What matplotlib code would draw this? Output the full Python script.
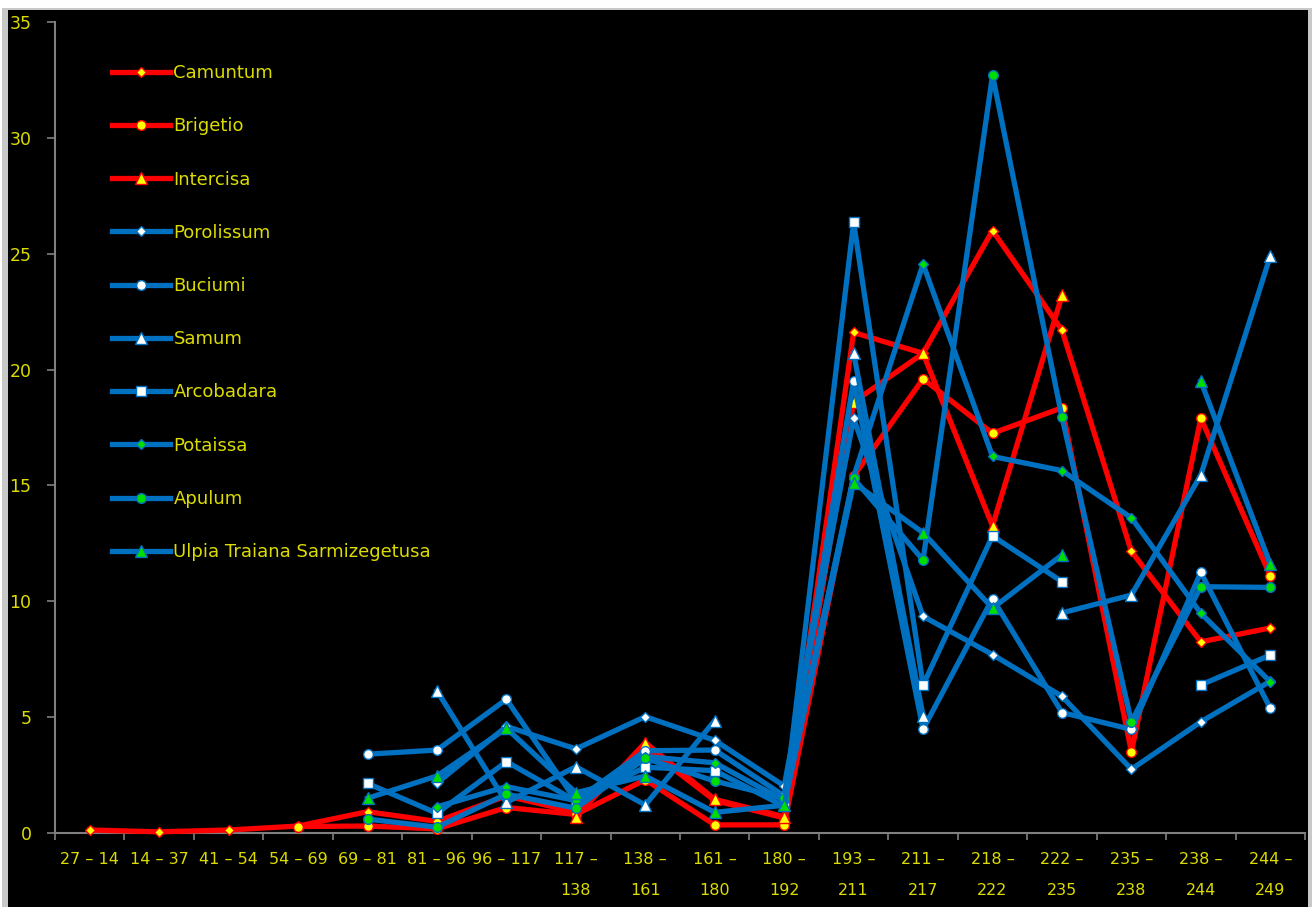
import numpy as np
import matplotlib
matplotlib.use("Agg")
import matplotlib.pyplot as plt
from matplotlib.patches import Rectangle

nan = np.nan

periods = ["27 – 14", "14 – 37", "41 – 54", "54 – 69", "69 – 81", "81 – 96", "96 – 117",
           "117 –\n138", "138 –\n161", "161 –\n180", "180 –\n192", "193 –\n211",
           "211 –\n217", "218 –\n222", "222 –\n235", "235 –\n238", "238 –\n244", "244 –\n249"]

camuntum   = [0.13, 0.05, 0.13, 0.3, 0.92, 0.5, 1.6, 0.9, 3.7, 1.4, 0.65, 21.6, 20.7, 26.0, 21.7, 12.15, 8.25, 8.85]
brigetio   = [nan, nan, nan, 0.28, 0.3, 0.18, 1.1, 0.8, 2.3, 0.35, 0.35, 15.4, 19.6, 17.25, 18.35, 3.5, 17.9, 11.1]
intercisa  = [nan, nan, nan, nan, nan, nan, nan, 0.7, 3.9, 1.45, 0.7, 18.6, 20.7, 13.25, 23.2, nan, nan, nan]
porolissum = [nan, nan, nan, nan, nan, 2.15, 4.6, 3.63, 5.02, 4.0, 2.03, 17.9, 9.35, 7.7, 5.9, 2.75, 4.8, 6.55]
buciumi    = [nan, nan, nan, nan, 3.4, 3.58, 5.77, 1.4, 3.55, 3.58, 1.6, 19.5, 4.48, 10.12, 5.2, 4.47, 11.25, 5.38]
samum      = [nan, nan, nan, nan, nan, 6.14, 1.32, 2.86, 1.21, 4.85, nan, 20.7, 5.05, nan, 9.5, 10.27, 15.45, 24.9]
arcobadara = [nan, nan, nan, nan, 2.14, 0.85, 3.08, 1.38, 2.84, 2.69, 1.15, 26.35, 6.39, 12.82, 10.85, nan, 6.39, 7.68]
potaissa   = [nan, nan, nan, nan, nan, 1.13, 2.0, 1.4, 3.3, 3.03, 1.4, 15.38, 24.55, 16.25, 15.64, 13.6, 9.48, 6.53]
apulum     = [nan, nan, nan, nan, 0.6, 0.25, 1.68, 1.07, 3.22, 2.24, 1.5, 15.3, 11.78, 32.7, 17.95, 4.8, 10.63, 10.6]
ulpia      = [nan, nan, nan, nan, 1.5, 2.46, 4.52, 1.74, 2.46, 0.89, 1.2, 15.12, 12.96, 9.7, 12.0, nan, 19.5, 11.6]

red = "#FF0000"
blue = "#0070C0"
yellow = "#FFFF00"
green = "#00DD00"
txt = "#DCDC00"

# name, values, line colour, marker, marker fill, marker size
series = [
    ("Camuntum", camuntum, red, "D", yellow, 5),
    ("Brigetio", brigetio, red, "o", yellow, 7),
    ("Intercisa", intercisa, red, "^", yellow, 8),
    ("Porolissum", porolissum, blue, "D", "white", 5),
    ("Buciumi", buciumi, blue, "o", "white", 7),
    ("Samum", samum, blue, "^", "white", 8),
    ("Arcobadara", arcobadara, blue, "s", "white", 7),
    ("Potaissa", potaissa, blue, "D", green, 5),
    ("Apulum", apulum, blue, "o", green, 7),
    ("Ulpia Traiana Sarmizegetusa", ulpia, blue, "^", green, 8),
]

W, H = 1312, 907
fig = plt.figure(figsize=(W / 100, H / 100), dpi=100)
fig.patch.set_facecolor("white")
# shadow + black chart area
fig.patches.append(Rectangle((2 / W, 0), 1310 / W, 899 / H, transform=fig.transFigure,
                             facecolor="#c8c8c8", edgecolor="none", zorder=-20))
fig.patches.append(Rectangle((8 / W, 0), 1300 / W, 897 / H, transform=fig.transFigure,
                             facecolor="black", edgecolor="none", zorder=-10))

ax = fig.add_axes([55 / W, 74 / H, 1250 / W, 811 / H])
ax.set_facecolor("black")

x = np.arange(len(periods))
for i, (name, vals, c, m, mfc, ms) in enumerate(series):
    ax.plot(x, vals, color=c, lw=3.8, marker=m, ms=ms, mfc=mfc, mec=c, mew=1.0,
            label=name, zorder=3 + i, clip_on=False)

ax.set_xlim(-0.5, len(periods) - 0.5)
ax.set_ylim(0, 35)

ax.set_xticks(x)
ax.set_xticklabels(periods)
ax.set_xticks(np.arange(-0.5, len(periods), 1), minor=True)
ax.tick_params(axis="x", which="major", length=0, pad=14, labelcolor=txt, labelsize=11.5)
ax.tick_params(axis="x", which="minor", length=5, color="#808080", width=1.2, direction="out")
for t in ax.get_xticklabels():
    t.set_linespacing(2.3)

ax.set_yticks(range(0, 36, 5))
ax.tick_params(axis="y", length=6, color="#808080", width=1.2, pad=11, labelcolor=txt, labelsize=12.5)

for s in ["top", "right"]:
    ax.spines[s].set_visible(False)
for s in ["left", "bottom"]:
    ax.spines[s].set_color("#808080")
    ax.spines[s].set_linewidth(1.5)

leg = ax.legend(loc="upper left", bbox_to_anchor=(0.0456, 0.948), frameon=False, fontsize=13,
                labelspacing=1.95, handlelength=3.2, handletextpad=0.2,
                borderaxespad=0, borderpad=0)
for t in leg.get_texts():
    t.set_color(txt)

fig.savefig("out.png", dpi=100, facecolor=fig.get_facecolor())
